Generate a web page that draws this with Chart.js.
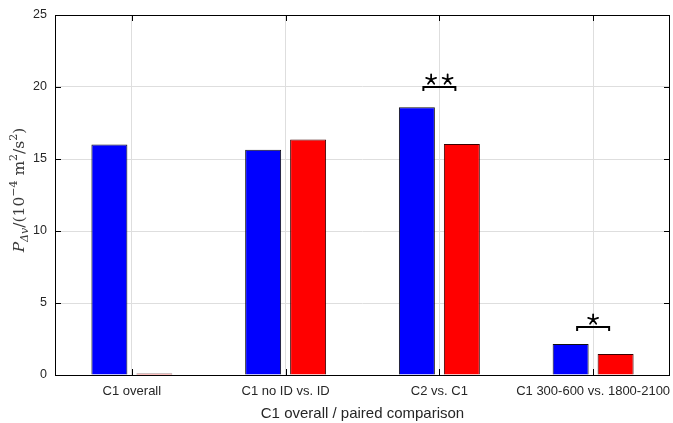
<!DOCTYPE html>
<html>
<head>
<meta charset="utf-8">
<script src="https://cdn.jsdelivr.net/npm/chart.js@4/dist/chart.umd.min.js"></script>
<style>
html,body{margin:0;padding:0;background:#fff;}
#wrap{width:673px;height:423px;position:relative;}
</style>
</head>
<body>
<div id="wrap"><canvas id="c" width="673" height="423"></canvas></div>
<script>
const categories = ['C1 overall', 'C1 no ID vs. ID', 'C2 vs. C1', 'C1 300-600 vs. 1800-2100'];
const firstValues = [16.0, 15.65, 18.6, 2.15];
const secondValues = [0.1, 16.35, 16.05, 1.45];
const yTicks = [0, 5, 10, 15, 20, 25];
const sigCategory = [2, 3];
const sigLevel = [20.0, 3.3];
const sigLabel = ['**', '*'];

const TXT = '#262626';
const FONT = "'Liberation Sans', Arial, Helvetica, sans-serif";

function drawStar(ctx, cx, cy, r) {
  ctx.beginPath();
  for (let k = 0; k < 5; k++) {
    const ang = -Math.PI / 2 + k * 2 * Math.PI / 5;
    ctx.moveTo(cx, cy);
    ctx.lineTo(cx + r * Math.cos(ang), cy + r * Math.sin(ang));
  }
  ctx.stroke();
}

const frame = {
  id: 'frame',
  afterDatasetsDraw(chart) {
    const {ctx, chartArea: a, scales} = chart;
    ctx.save();
    ctx.strokeStyle = '#000';
    ctx.lineWidth = 1;
    ctx.strokeRect(a.left + 0.5, a.top + 0.5, a.right - a.left - 1, a.bottom - a.top);
    const tl = 6;
    ctx.beginPath();
    categories.forEach((c, i) => {
      const x = Math.round(scales.x.getPixelForValue(i)) + 0.5;
      ctx.moveTo(x, a.bottom); ctx.lineTo(x, a.bottom - tl);
      ctx.moveTo(x, a.top); ctx.lineTo(x, a.top + tl);
    });
    yTicks.forEach(v => {
      const y = Math.round(scales.y.getPixelForValue(v)) + 0.5;
      ctx.moveTo(a.left, y); ctx.lineTo(a.left + tl, y);
      ctx.moveTo(a.right, y); ctx.lineTo(a.right - tl, y);
    });
    ctx.stroke();

    // significance brackets
    sigCategory.forEach((ci, k) => {
      const xc = scales.x.getPixelForValue(ci);
      const y = Math.round(scales.y.getPixelForValue(sigLevel[k]));
      const hw = 16;
      ctx.strokeStyle = '#000';
      ctx.lineWidth = 2;
      ctx.lineCap = 'butt';
      ctx.beginPath();
      ctx.moveTo(xc - hw, y + 4); ctx.lineTo(xc - hw, y); ctx.lineTo(xc + hw, y); ctx.lineTo(xc + hw, y + 4);
      ctx.stroke();
      const n = sigLabel[k].length;
      const sp = 16.5;
      ctx.lineWidth = 1.8;
      ctx.lineCap = 'round';
      for (let j = 0; j < n; j++) {
        const sx = xc + (j - (n - 1) / 2) * sp;
        drawStar(ctx, sx, y - 7.5, 5.2);
      }
    });
    ctx.restore();
  },
  afterDraw(chart) {
    const {ctx, chartArea: a} = chart;
    ctx.save();
    const cy = (a.top + a.bottom) / 2 - 5;
    ctx.translate(19, cy);
    ctx.rotate(-Math.PI / 2);
    ctx.fillStyle = '#3a3a3a';
    ctx.textBaseline = 'alphabetic';
    const serif = "'DejaVu Serif', 'Liberation Serif', serif";
    const big = 15.5, small = 11;
    const parts = [
      {t: 'P', f: 'italic ' + big + 'px ' + serif, dy: 0},
      {t: 'Δv', f: 'italic ' + small + 'px ' + serif, dy: 3.5},
      {t: '/(10', f: big + 'px ' + serif, dy: 0},
      {t: '−4', f: small + 'px ' + serif, dy: -7},
      {t: ' m', f: big + 'px ' + serif, dy: 0},
      {t: '2', f: small + 'px ' + serif, dy: -7},
      {t: '/s', f: big + 'px ' + serif, dy: 0},
      {t: '2', f: small + 'px ' + serif, dy: -7},
      {t: ')', f: big + 'px ' + serif, dy: 0}
    ];
    let w = 0;
    parts.forEach(p => { ctx.font = p.f; p.w = ctx.measureText(p.t).width; w += p.w; });
    let x = -w / 2;
    parts.forEach(p => { ctx.font = p.f; ctx.fillText(p.t, x, 5 + p.dy); x += p.w; });
    ctx.restore();
  }
};

new Chart(document.getElementById('c'), {
  type: 'bar',
  data: {
    labels: categories,
    datasets: [
      {data: firstValues, backgroundColor: '#0000ff', borderColor: '#111111', borderWidth: 1},
      {data: secondValues, backgroundColor: '#ff0000', borderColor: '#3a0000', borderWidth: 1}
    ]
  },
  options: {
    responsive: false,
    animation: false,
    devicePixelRatio: 1,
    categoryPercentage: 0.585,
    barPercentage: 0.8,
    layout: {padding: {left: 0, top: 15, right: 3, bottom: 0}},
    plugins: {legend: {display: false}, tooltip: {enabled: false}},
    scales: {
      x: {
        grid: {display: true, offset: false, color: '#dedede', drawTicks: false},
        border: {display: false},
        ticks: {color: TXT, font: {family: FONT, size: 13}, padding: 9, maxRotation: 0, autoSkip: false},
        title: {display: true, text: 'C1 overall / paired comparison', color: TXT, font: {family: FONT, size: 15}, padding: {top: 1, bottom: 0}},
        afterFit(s) { s.height = 48; s.paddingLeft = 0; s.paddingRight = 0; }
      },
      y: {
        min: 0, max: 25,
        afterBuildTicks(s) { s.ticks = yTicks.map(v => ({value: v})); },
        grid: {color: '#dedede', drawTicks: false},
        border: {display: false},
        ticks: {color: TXT, font: {family: FONT, size: 12.5}, padding: 8},
        afterFit(s) { s.width = 55; s.paddingTop = 0; s.paddingBottom = 0; }
      }
    }
  },
  plugins: [frame]
});
</script>
</body>
</html>
